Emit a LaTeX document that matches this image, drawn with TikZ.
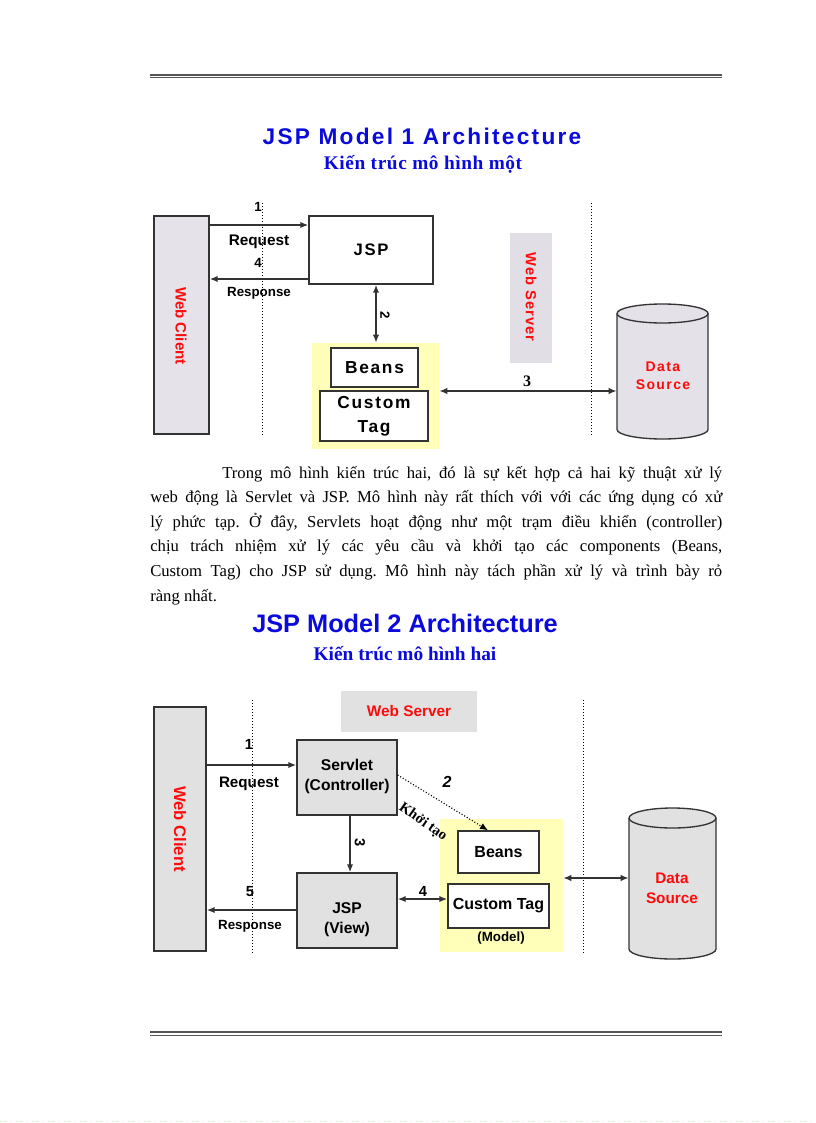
\documentclass[tikz,border=0pt]{standalone}
\usepackage{fontspec}
\setmainfont{Liberation Serif}
\setsansfont{Liberation Sans}
\newfontfamily\arial{Liberation Sans}
\newfontfamily\arialsp[LetterSpace=10]{Liberation Sans}
\newfontfamily\arialspb[LetterSpace=7]{Liberation Sans}
\newfontfamily\tnr{Liberation Serif}
\newfontfamily\tnrsp[LetterSpace=3]{Liberation Serif}
\usetikzlibrary{arrows.meta,fit}
\definecolor{titleblue}{HTML}{0A0ADC}
\definecolor{lblred}{HTML}{FF0A0A}
\definecolor{edge}{HTML}{333333}
\definecolor{clientgray}{HTML}{E6E2EA}
\definecolor{srvgray}{HTML}{E2DEE6}
\definecolor{boxgray}{HTML}{E1E1E1}
\definecolor{cylgray}{HTML}{E4E2E8}
\definecolor{pale}{HTML}{FFFFBA}
\definecolor{rulegray}{HTML}{555555}
\begin{document}
\frenchspacing
\begin{tikzpicture}[x=0.75pt,y=-0.75pt,
  box/.style={draw=edge,line width=1pt,inner sep=0pt},
  plain/.style={inner sep=0pt},
  arr/.style={draw=edge,line width=1.2pt,-{Latex[length=6pt,width=4.8pt]}},
  darr/.style={draw=edge,line width=1.2pt,{Latex[length=6pt,width=4.8pt]}-{Latex[length=6pt,width=4.8pt]}},
  sepline/.style={draw=black,line width=0.75pt,dash pattern=on 0.75pt off 1.5pt},
  dotarr/.style={draw=black,line width=0.9pt,dash pattern=on 0.75pt off 1.5pt,-{Latex[length=6pt,width=5pt]}},
  bsans/.style={font=\arial\bfseries\fontsize{#1}{#1}\selectfont,inner sep=0pt},
  bsanssp/.style={font=\arialsp\bfseries\fontsize{#1}{#1}\selectfont,inner sep=0pt},
  redlbl/.style={text=lblred}
]
\useasboundingbox (0,0) rectangle (816,1123);
\fill[white] (0,0) rectangle (816,1123);

% rules
\draw[rulegray,line width=1.5pt] (150,75) -- (722,75);
\draw[rulegray,line width=0.75pt] (150,78) -- (722,78);
\draw[rulegray,line width=1.5pt] (150,1032) -- (722,1032);
\draw[rulegray,line width=0.75pt] (150,1035) -- (722,1035);
\draw[green!30!white,line width=0.75pt,dash pattern=on 1pt off 3pt] (0,1121) -- (816,1121);

% titles
\node[anchor=base,text=titleblue,font=\arialsp\bfseries\fontsize{17}{17}\selectfont,inner sep=0pt] (t1) at (422,145) {JSP Model 1 Architecture};
\node[anchor=base,text=titleblue,font=\tnrsp\bfseries\fontsize{14.5}{14.5}\selectfont,inner sep=0pt] (s1) at (423,170) {Kiến trúc mô hình một};

% ---------- Diagram 1 ----------
\coordinate (y225) at (0,225);
\coordinate (y279) at (0,279);
\coordinate (x376) at (376,0);
\coordinate (y391) at (0,391);

\node[box,fill=clientgray,fit={(154,216)(209,434)}] (wc1) {};
\node[bsans=11.3,redlbl,rotate=-90] (wc1t) at (181,326) {Web Client};
\draw[sepline] (262,203) -- (262,437);
\node[box,fill=white,fit={(309,216)(433,284)}] (jsp1) {};
\node[bsanssp=12.5] (jsp1t) at (371,250) {JSP};

\node[fill=pale,inner sep=0pt,fit={(312,343)(439,449)}] (model1) {};
\node[box,fill=white,fit={(331,348)(418,387)}] (beans1) {};
\node[bsanssp=13] (beans1t) at (beans1.center) {Beans};
\node[box,fill=white,fit={(320,391)(428,441)}] (ct1) {};
\node[font=\arialsp\bfseries\fontsize{13}{18}\selectfont,inner sep=0pt,align=center] (ct1t) at (374,416) {Custom\\Tag};

\node[fill=srvgray,inner sep=0pt,fit={(510,233)(552,363)}] (ws1) {};
\node[font=\arialspb\bfseries\fontsize{11}{11}\selectfont,inner sep=0pt,redlbl,rotate=-90] (ws1t) at (531,297) {Web Server};
\draw[sepline] (591,203) -- (591,437);

% cylinder 1
\fill[cylgray] (617,313.5) -- (617,429.5) arc[start angle=180,end angle=360,x radius=34.125pt,y radius=7.125pt] -- (708,313.5) arc[start angle=0,end angle=180,x radius=34.125pt,y radius=7.125pt] -- cycle;
\draw[edge,line width=1pt] (617,313.5) -- (617,429.5) arc[start angle=180,end angle=360,x radius=34.125pt,y radius=7.125pt] -- (708,313.5);
\draw[edge,line width=1pt] (662.5,313.5) ellipse[x radius=34.125pt,y radius=7.125pt];
\node[inner sep=0pt,minimum width=68.25pt,minimum height=101.25pt] (ds1) at (662.5,371.5) {};
\node[font=\arialsp\bfseries\fontsize{10.5}{13.5}\selectfont,inner sep=0pt,align=center,redlbl] (ds1t) at (663,376) {Data\\Source};

% arrows 1
\draw[arr] (wc1.east |- y225) -- (jsp1.west |- y225);
\draw[arr] (jsp1.west |- y279) -- (wc1.east |- y279);
\draw[darr] (jsp1.south -| x376) -- (model1.north -| x376);
\draw[darr] (model1.east |- y391) -- (ds1.west |- y391);

\node[bsans=10] (n1a) at (258,207) {1};
\node[bsans=11.5] (req1) at (259,242) {Request};
\node[bsans=10] (n4a) at (258,263) {4};
\node[bsans=10] (resp1) at (259,293) {Response};
\node[bsans=10,rotate=-90] (n2a) at (385,315) {2};
\node[font=\tnr\bfseries\fontsize{12}{12}\selectfont,inner sep=0pt] (n3a) at (527,381) {3};

% ---------- paragraph ----------
\node[anchor=north west,inner sep=0pt,text width=429pt,align=justify,
      font=\tnr\fontsize{12.5}{18.4}\selectfont] (para) at (150,466)
{\hspace*{54pt}Trong mô hình kiến trúc hai, đó là sự kết hợp cả hai kỹ thuật xử lý\linebreak
web động là Servlet và JSP. Mô hình này rất thích với với các ứng dụng có xử\linebreak
lý phức tạp. Ở đây, Servlets hoạt động như một trạm điều khiển (controller)\linebreak
chịu trách nhiệm xử lý các yêu cầu và khởi tạo các components (Beans,\linebreak
Custom Tag) cho JSP sử dụng. Mô hình này tách phần xử lý và trình bày rỏ\linebreak
ràng nhất.};

\node[anchor=base,text=titleblue,font=\arial\bfseries\fontsize{19}{19}\selectfont,inner sep=0pt] (t2) at (405,632) {JSP Model 2 Architecture};
\node[anchor=base,text=titleblue,font=\tnr\bfseries\fontsize{14.5}{14.5}\selectfont,inner sep=0pt] (s2) at (405,660) {Kiến trúc mô hình hai};

% ---------- Diagram 2 ----------
\coordinate (y765) at (0,765);
\coordinate (y910) at (0,910);
\coordinate (x350) at (350,0);
\coordinate (y899) at (0,899);
\coordinate (y775) at (0,775);
\coordinate (x488) at (488,0);
\coordinate (y878) at (0,878);

\node[box,fill=boxgray,fit={(154,707)(206,951)}] (wc2) {};
\node[bsans=12.5,redlbl,rotate=-90] (wc2t) at (180,829) {Web Client};
\draw[sepline] (252,700) -- (252,955);
\draw[sepline] (583,700) -- (583,955);

\node[fill=boxgray,inner sep=0pt,fit={(341,691)(477,732)}] (ws2) {};
\node[bsans=11.5,redlbl] (ws2t) at (409,711) {Web Server};

\node[box,fill=boxgray,fit={(297,740)(397,815)}] (srv) {};
\node[font=\arial\bfseries\fontsize{11.7}{15}\selectfont,inner sep=0pt,align=center] (srvt) at (347,776) {Servlet\\(Controller)};
\node[box,fill=boxgray,fit={(297,873)(397,948)}] (jsp2) {};
\node[font=\arial\bfseries\fontsize{11.7}{15}\selectfont,inner sep=0pt,align=center] (jsp2t) at (347,920) {JSP\\(View)};

\node[fill=pale,inner sep=0pt,fit={(440,819)(563,952)}] (model2) {};
\node[box,fill=white,fit={(458,831)(539,873)}] (beans2) {};
\node[bsans=12] (beans2t) at (beans2.center) {Beans};
\node[box,fill=white,fit={(448,884)(549,928)}] (ct2) {};
\node[bsans=12] (ct2t) at (ct2.center) {Custom Tag};
\node[bsans=10] (modelt) at (501,938) {(Model)};

% cylinder 2
\fill[boxgray] (629,818) -- (629,949) arc[start angle=180,end angle=360,x radius=32.625pt,y radius=7.5pt] -- (716,818) arc[start angle=0,end angle=180,x radius=32.625pt,y radius=7.5pt] -- cycle;
\draw[edge,line width=1pt] (629,818) -- (629,949) arc[start angle=180,end angle=360,x radius=32.625pt,y radius=7.5pt] -- (716,818);
\draw[edge,line width=1pt] (672.5,818) ellipse[x radius=32.625pt,y radius=7.5pt];
\node[inner sep=0pt,minimum width=65.25pt,minimum height=113pt] (ds2) at (672.5,883.5) {};
\node[font=\arial\bfseries\fontsize{11.5}{15}\selectfont,inner sep=0pt,align=center,redlbl] (ds2t) at (672,888) {Data\\Source};

% arrows 2
\draw[arr] (wc2.east |- y765) -- (srv.west |- y765);
\draw[arr] (jsp2.west |- y910) -- (wc2.east |- y910);
\draw[arr] (srv.south -| x350) -- (jsp2.north -| x350);
\draw[darr] (jsp2.east |- y899) -- (ct2.west |- y899);
\draw[dotarr] (srv.east |- y775) -- (x488 |- beans2.north);
\draw[darr] (model2.east |- y878) -- (ds2.west |- y878);

\node[bsans=11] (n1b) at (249,744) {1};
\node[bsans=11.4] (req2) at (249,784) {Request};
\node[bsans=11] (n5b) at (250,892) {5};
\node[bsans=10] (resp2) at (250,926) {Response};
\node[bsans=11,rotate=-90] (n3b) at (360,843) {3};
\node[bsans=11] (n4b) at (423,891) {4};
\node[font=\arial\bfseries\itshape\fontsize{12}{12}\selectfont,inner sep=0pt] (n2b) at (447,782) {2};
\node[font=\tnr\bfseries\fontsize{11}{11}\selectfont,inner sep=0pt,rotate=-35] (khoi) at (423,822) {Khởi tạo};
\end{tikzpicture}
\end{document}
